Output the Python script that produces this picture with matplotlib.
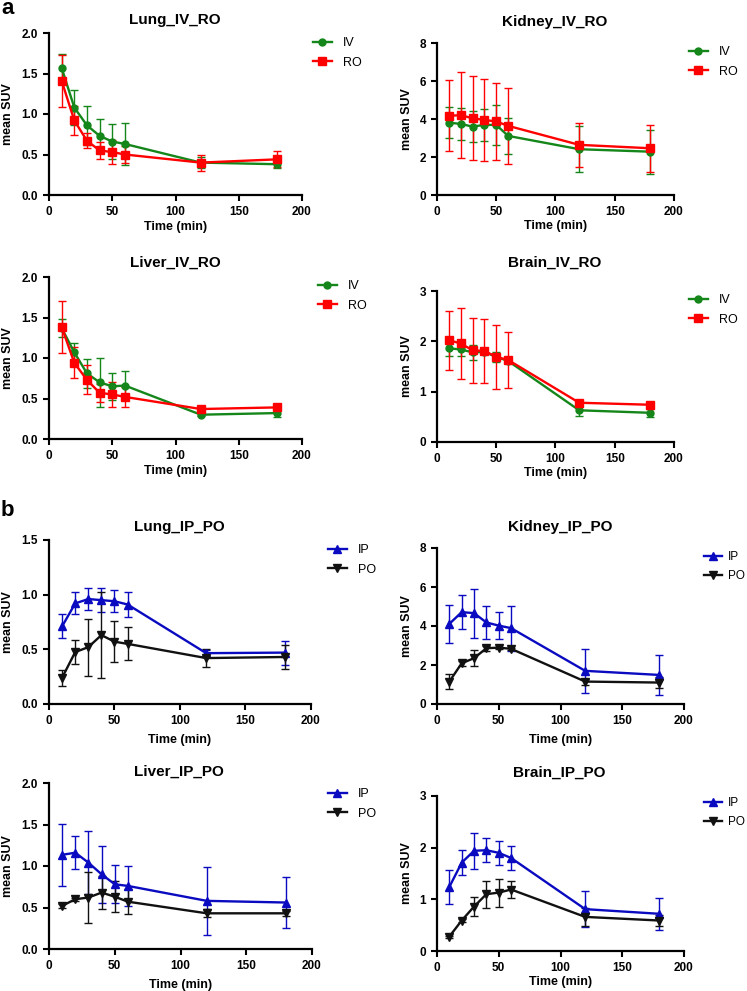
import matplotlib
matplotlib.use('Agg')
import matplotlib.pyplot as plt
from matplotlib.lines import Line2D

plt.rcParams['font.family'] = ['Liberation Sans', 'DejaVu Sans']

# ---------------- data ----------------
time = [10, 20, 30, 40, 50, 60, 120, 180]
xticks = [0, 50, 100, 150, 200]

lung_iv = [1.57, 1.08, 0.86, 0.73, 0.66, 0.63, 0.40, 0.38]
lung_iv_err = [0.17, 0.22, 0.24, 0.21, 0.22, 0.26, 0.07, 0.05]
lung_ro = [1.41, 0.92, 0.67, 0.55, 0.53, 0.50, 0.40, 0.44]
lung_ro_err = [0.32, 0.18, 0.09, 0.10, 0.15, 0.11, 0.10, 0.10]

kidney_iv = [3.81, 3.74, 3.60, 3.69, 3.69, 3.11, 2.41, 2.28]
kidney_iv_err = [0.80, 0.85, 0.80, 0.85, 1.05, 0.95, 1.20, 1.15]
kidney_ro = [4.17, 4.20, 4.04, 3.95, 3.87, 3.64, 2.64, 2.46]
kidney_ro_err = [1.87, 2.27, 2.20, 2.17, 2.03, 2.00, 1.15, 1.25]

liver_iv = [1.37, 1.07, 0.81, 0.70, 0.65, 0.66, 0.30, 0.32]
liver_iv_err = [0.11, 0.12, 0.18, 0.30, 0.17, 0.18, 0.02, 0.05]
liver_ro = [1.385, 0.94, 0.73, 0.57, 0.55, 0.52, 0.37, 0.39]
liver_ro_err = [0.32, 0.19, 0.18, 0.11, 0.15, 0.12, 0.03, 0.03]

brain_iv = [1.86, 1.84, 1.78, 1.79, 1.69, 1.61, 0.63, 0.58]
brain_iv_err = [0.16, 0.14, 0.15, 0.05, 0.10, 0.05, 0.12, 0.08]
brain_ro = [2.02, 1.96, 1.82, 1.81, 1.69, 1.63, 0.78, 0.74]
brain_ro_err = [0.59, 0.70, 0.65, 0.64, 0.64, 0.55, 0.03, 0.06]

lung_ip = [0.71, 0.92, 0.96, 0.95, 0.94, 0.91, 0.465, 0.47]
lung_ip_err = [0.11, 0.10, 0.10, 0.11, 0.10, 0.11, 0.03, 0.11]
lung_po = [0.24, 0.475, 0.52, 0.63, 0.57, 0.55, 0.42, 0.43]
lung_po_err = [0.075, 0.11, 0.26, 0.39, 0.19, 0.15, 0.08, 0.11]

kidney_ip = [4.11, 4.71, 4.66, 4.18, 4.02, 3.89, 1.70, 1.49]
kidney_ip_err = [0.96, 0.87, 1.26, 0.86, 0.71, 1.16, 1.12, 1.04]
kidney_po = [1.15, 2.09, 2.35, 2.86, 2.89, 2.83, 1.15, 1.10]
kidney_po_err = [0.40, 0.12, 0.42, 0.12, 0.05, 0.05, 0.15, 0.28]

liver_ip = [1.135, 1.16, 1.04, 0.90, 0.78, 0.76, 0.58, 0.56]
liver_ip_err = [0.37, 0.20, 0.38, 0.34, 0.23, 0.24, 0.41, 0.31]
liver_po = [0.52, 0.60, 0.62, 0.68, 0.63, 0.57, 0.43, 0.43]
liver_po_err = [0.02, 0.02, 0.31, 0.20, 0.19, 0.15, 0.05, 0.03]

brain_ip = [1.24, 1.71, 1.94, 1.95, 1.90, 1.80, 0.81, 0.72]
brain_ip_err = [0.33, 0.24, 0.35, 0.23, 0.23, 0.23, 0.35, 0.31]
brain_po = [0.28, 0.59, 0.86, 1.10, 1.13, 1.19, 0.66, 0.59]
brain_po_err = [0.02, 0.03, 0.19, 0.26, 0.27, 0.16, 0.18, 0.10]

# ---------------- styles ----------------
GREEN = '#14861a'
RED = '#ff0000'
BLUE = '#0a0ac0'
BLACK = '#111111'

W, H = 747, 991
fig = plt.figure(figsize=(W / 100, H / 100), dpi=100)


def panel(box, title, title_xy, series, ylim, yticks, yfmt, leg_xy, xlab_y, ylab_x,
          textpad=0.9, legsize=9):
    l, t, r, b = box
    ax = fig.add_axes([l / W, 1 - b / H, (r - l) / W, (b - t) / H])
    handles = []
    for (y, e, lab, col, mk, ms) in series:
        ax.errorbar(time, y, yerr=e, color=col, marker=mk, ms=ms, lw=1.7,
                    elinewidth=1.0, capsize=3, capthick=1.0, clip_on=False)
        handles.append(Line2D([], [], color=col, marker=mk, ms=ms, lw=1.7, label=lab))
    ax.set_xlim(0, 200)
    ax.set_ylim(*ylim)
    ax.set_xticks(xticks, [str(v) for v in xticks], fontweight='bold', fontsize=8.5)
    ax.set_yticks(yticks, [yfmt.format(v) for v in yticks], fontweight='bold', fontsize=8.5)
    for s in ('top', 'right'):
        ax.spines[s].set_visible(False)
    for s in ('left', 'bottom'):
        ax.spines[s].set_linewidth(1.6)
    ax.tick_params(direction='out', length=4, width=1.5, pad=4)
    # title
    fig.text(title_xy[0] / W, 1 - title_xy[1] / H, title, ha='center', va='center',
             fontsize=11, fontweight='bold')
    # axis labels
    ax.set_xlabel('Time (min)', fontsize=9, fontweight='bold')
    ax.xaxis.label.set_va('center')
    ax.xaxis.set_label_coords(0.5, -(xlab_y - b) / (b - t))
    ax.set_ylabel('mean SUV', fontsize=9, fontweight='bold')
    ax.yaxis.label.set_va('center')
    ax.yaxis.set_label_coords(-(l - ylab_x) / (r - l), 0.5)
    # legend
    ax.legend(handles=handles, loc='upper left',
              bbox_to_anchor=(leg_xy[0] / W, 1 - (leg_xy[1] - 7) / H),
              bbox_transform=fig.transFigure, frameon=False, borderpad=0,
              borderaxespad=0, handlelength=1.5, handletextpad=textpad,
              labelspacing=0.62, fontsize=legsize)
    return ax


iv_ro = lambda iv, ive, ro, roe: [
    (iv, ive, 'IV', GREEN, 'o', 5),
    (ro, roe, 'RO', RED, 's', 6),
]
ip_po = lambda ip, ipe, po, poe: [
    (ip, ipe, 'IP', BLUE, '^', 6),
    (po, poe, 'PO', BLACK, 'v', 6),
]

t05 = [0, 0.5, 1.0, 1.5, 2.0]
panel((49, 33, 302, 195), 'Lung_IV_RO', (175, 20),
      iv_ro(lung_iv, lung_iv_err, lung_ro, lung_ro_err),
      (0, 2.0), t05, '{:.1f}', (313, 44), 227, 8)
panel((437, 43, 674, 195), 'Kidney_IV_RO', (555, 22),
      iv_ro(kidney_iv, kidney_iv_err, kidney_ro, kidney_ro_err),
      (0, 8), [0, 2, 4, 6, 8], '{:d}', (689, 53), 226, 407)
panel((49, 277, 302, 439), 'Liver_IV_RO', (175, 263),
      iv_ro(liver_iv, liver_iv_err, liver_ro, liver_ro_err),
      (0, 2.0), t05, '{:.1f}', (318, 287), 471, 8)
panel((437, 291, 674, 442), 'Brain_IV_RO', (555, 263),
      iv_ro(brain_iv, brain_iv_err, brain_ro, brain_ro_err),
      (0, 3), [0, 1, 2, 3], '{:d}', (689, 301), 473, 407)

panel((49, 540, 311, 704), 'Lung_IP_PO', (179, 527),
      ip_po(lung_ip, lung_ip_err, lung_po, lung_po_err),
      (0, 1.5), [0, 0.5, 1.0, 1.5], '{:.1f}', (328, 551), 740, 8)
panel((437, 548, 684, 704), 'Kidney_IP_PO', (560, 527),
      ip_po(kidney_ip, kidney_ip_err, kidney_po, kidney_po_err),
      (0, 8), [0, 2, 4, 6, 8], '{:d}', (704, 558), 740, 407, textpad=0.5, legsize=8.5)
panel((49, 783, 312, 949), 'Liver_IP_PO', (179, 772),
      ip_po(liver_ip, liver_ip_err, liver_po, liver_po_err),
      (0, 2.0), t05, '{:.1f}', (328, 795), 985, 8)
panel((437, 796, 684, 951), 'Brain_IP_PO', (559, 773),
      ip_po(brain_ip, brain_ip_err, brain_po, brain_po_err),
      (0, 3), [0, 1, 2, 3], '{:d}', (704, 804), 982, 407, textpad=0.5, legsize=8.5)

fig.text(1 / W, 1 - 9 / H, 'a', fontsize=16, fontweight='bold', ha='left', va='center')
fig.text(1 / W, 1 - 510 / H, 'b', fontsize=16, fontweight='bold', ha='left', va='center')

fig.savefig('out.png', dpi=100)
